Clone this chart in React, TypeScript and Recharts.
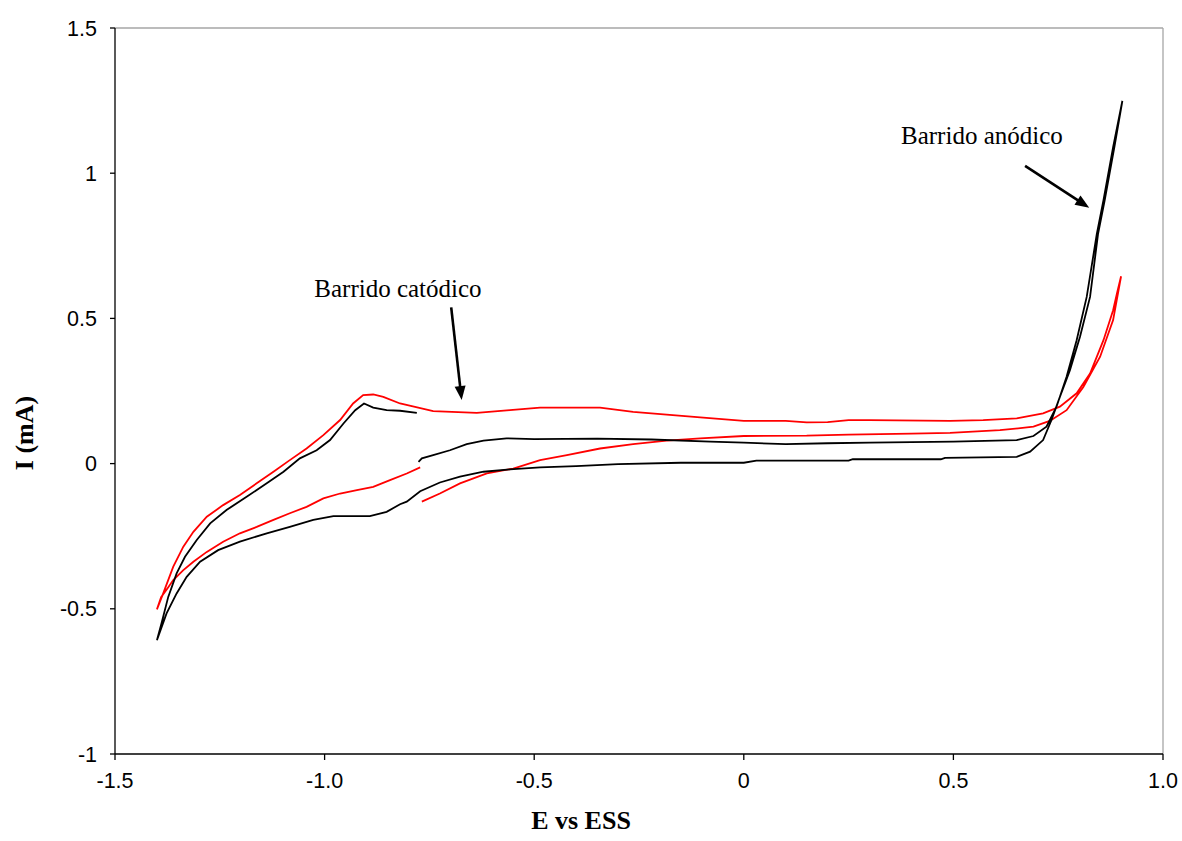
import React from 'react';
import { LineChart, Line, XAxis, YAxis, ReferenceLine, ReferenceDot } from 'recharts';

// Black voltammogram (E vs ESS, I in mA), in scan order
const blackE = [
  -0.776, -0.768, -0.741, -0.701, -0.661, -0.621, -0.566, -0.5, -0.35, -0.22, -0.08, 0.0, 0.1, 0.2, 0.3, 0.5, 0.6, 0.651, 0.691, 0.722, 0.746, 0.77, 0.794, 0.818, 0.842, 0.858, 0.881, 0.903,
  0.902, 0.884, 0.861, 0.845, 0.826, 0.802, 0.778, 0.754, 0.734, 0.714, 0.683, 0.651, 0.48, 0.47, 0.26, 0.25, 0.03, 0.0, -0.15, -0.3, -0.4, -0.486, -0.558, -0.621, -0.677, -0.725, -0.772, -0.804, -0.82, -0.852, -0.892, -0.979, -1.027, -1.083, -1.138, -1.202, -1.254, -1.297, -1.329, -1.353, -1.377, -1.4,
  -1.389, -1.373, -1.353, -1.333, -1.305, -1.273, -1.234, -1.186, -1.138, -1.098, -1.059, -1.019, -0.987, -0.955, -0.927, -0.906, -0.884, -0.852, -0.82, -0.78,
];
const blackI = [
  0.006, 0.018, 0.029, 0.046, 0.067, 0.079, 0.087, 0.084, 0.086, 0.083, 0.076, 0.072, 0.067, 0.07, 0.072, 0.076, 0.079, 0.081, 0.095, 0.127, 0.196, 0.299, 0.425, 0.574, 0.79, 0.907, 1.09, 1.249,
  1.24, 1.09, 0.907, 0.79, 0.574, 0.437, 0.322, 0.23, 0.15, 0.081, 0.041, 0.023, 0.02, 0.015, 0.015, 0.01, 0.01, 0.003, 0.003, -0.002, -0.009, -0.013, -0.02, -0.028, -0.045, -0.065, -0.095, -0.131, -0.14, -0.166, -0.181, -0.181, -0.194, -0.218, -0.24, -0.269, -0.298, -0.338, -0.39, -0.447, -0.516, -0.608,
  -0.55, -0.459, -0.378, -0.321, -0.263, -0.206, -0.16, -0.114, -0.068, -0.028, 0.018, 0.046, 0.081, 0.138, 0.184, 0.207, 0.193, 0.184, 0.182, 0.175,
];

// Red voltammogram, in scan order
const redE = [
  -0.768, -0.725, -0.677, -0.613, -0.55, -0.486, -0.422, -0.343, -0.264, -0.184, -0.104, 0.0, 0.15, 0.25, 0.4, 0.492, 0.611, 0.691, 0.73, 0.77, 0.81, 0.85, 0.881, 0.9,
  0.89, 0.881, 0.858, 0.826, 0.794, 0.754, 0.714, 0.651, 0.571, 0.492, 0.3, 0.25, 0.2, 0.15, 0.1, 0.0, -0.104, -0.184, -0.264, -0.343, -0.486, -0.558, -0.637, -0.741, -0.82, -0.86, -0.884, -0.908, -0.932, -0.963, -1.003, -1.043, -1.083, -1.122, -1.162, -1.202, -1.242, -1.281, -1.313, -1.337, -1.361, -1.385, -1.4,
  -1.39, -1.375, -1.361, -1.337, -1.313, -1.281, -1.242, -1.202, -1.162, -1.122, -1.083, -1.043, -1.003, -0.963, -0.923, -0.884, -0.844, -0.804, -0.772,
];
const redI = [
  -0.131, -0.103, -0.068, -0.034, -0.017, 0.012, 0.029, 0.052, 0.067, 0.079, 0.087, 0.095, 0.096, 0.1, 0.103, 0.106, 0.115, 0.127, 0.147, 0.184, 0.264, 0.368, 0.494, 0.645,
  0.585, 0.528, 0.425, 0.31, 0.242, 0.196, 0.173, 0.156, 0.15, 0.147, 0.15, 0.15, 0.143, 0.142, 0.147, 0.147, 0.159, 0.169, 0.178, 0.193, 0.193, 0.184, 0.175, 0.181, 0.207, 0.23, 0.238, 0.236, 0.207, 0.15, 0.098, 0.052, 0.012, -0.028, -0.068, -0.108, -0.143, -0.183, -0.235, -0.286, -0.355, -0.447, -0.502,
  -0.46, -0.43, -0.401, -0.367, -0.338, -0.304, -0.269, -0.24, -0.218, -0.194, -0.171, -0.149, -0.12, -0.103, -0.091, -0.08, -0.057, -0.034, -0.013,
];

const xTicks = [-1.5, -1.0, -0.5, 0, 0.5, 1.0];
const xTickLabels = ['-1.5', '-1.0', '-0.5', '0', '0.5', '1.0'];
const yTicks = [-1, -0.5, 0, 0.5, 1, 1.5];
const yTickLabels = ['-1', '-0.5', '0', '0.5', '1', '1.5'];

const annotations = [
  { text: 'Barrido catódico', e: -0.825, i: 0.573, from: { x: -0.698, y: 0.538 }, to: { x: -0.673, y: 0.219 } },
  { text: 'Barrido anódico', e: 0.568, i: 1.1, from: { x: 0.671, y: 1.025 }, to: { x: 0.824, y: 0.881 } },
];

const toPoints = (es: number[], is: number[]) => es.map((e, k) => ({ e, i: is[k] }));
const blackData = toPoints(blackE, blackI);
const redData = toPoints(redE, redI);

const serif = '"Liberation Serif", "Times New Roman", serif';
const sans = '"Liberation Sans", Arial, sans-serif';

const Arrow = (props: any) => {
  const { x1, y1, x2, y2 } = props;
  const dx = x2 - x1;
  const dy = y2 - y1;
  const len = Math.sqrt(dx * dx + dy * dy);
  const ux = dx / len;
  const uy = dy / len;
  const hl = 14;
  const hw = 5.5;
  const bx = x2 - ux * hl;
  const by = y2 - uy * hl;
  const p1 = `${x2},${y2}`;
  const p2 = `${bx - uy * hw},${by + ux * hw}`;
  const p3 = `${bx + uy * hw},${by - ux * hw}`;
  return (
    <g>
      <line x1={x1} y1={y1} x2={bx + ux * 2} y2={by + uy * 2} stroke="#000" strokeWidth={2.6} />
      <polygon points={`${p1} ${p2} ${p3}`} fill="#000" />
    </g>
  );
};

export default function App() {
  return (
    <div style={{ position: 'absolute', left: 0, top: 0, background: '#fff' }}>
      <LineChart width={1182} height={841} margin={{ top: 28, right: 19, bottom: 0, left: 0 }}>
        <XAxis
          type="number"
          dataKey="e"
          domain={[-1.5, 1.0]}
          ticks={xTicks}
          tickFormatter={(v: number) => xTickLabels[xTicks.indexOf(v)] ?? String(v)}
          height={87}
          tickSize={6}
          tickMargin={13}
          stroke="#000"
          axisLine={{ stroke: '#000', strokeWidth: 1.3 }}
          tickLine={{ stroke: '#000', strokeWidth: 1.3 }}
          tick={{ fill: '#000', fontSize: 21.5, fontFamily: sans }}
          allowDataOverflow
          label={(p: any) => {
            const vb = p.viewBox;
            return (
              <text x={vb.x + vb.width / 2 - 58} y={829} textAnchor="middle" fontFamily={serif} fontWeight="bold" fontSize={26} fill="#000">
                E vs ESS
              </text>
            );
          }}
        />
        <YAxis
          type="number"
          dataKey="i"
          domain={[-1, 1.5]}
          ticks={yTicks}
          tickFormatter={(v: number) => yTickLabels[yTicks.indexOf(v)] ?? String(v)}
          width={115}
          tickSize={5}
          tickMargin={13}
          stroke="#000"
          axisLine={{ stroke: '#000', strokeWidth: 1.3 }}
          tickLine={{ stroke: '#000', strokeWidth: 1.3 }}
          tick={{ fill: '#000', fontSize: 21.5, fontFamily: sans }}
          allowDataOverflow
          label={(p: any) => {
            const vb = p.viewBox;
            const cx = 24;
            const cy = vb.y + vb.height / 2 + 42;
            return (
              <text x={cx} y={cy} transform={`rotate(-90 ${cx} ${cy})`} textAnchor="middle" dominantBaseline="central" fontFamily={serif} fontWeight="bold" fontSize={26} fill="#000">
                I (mA)
              </text>
            );
          }}
        />
        <ReferenceLine y={1.5} stroke="#a6a6a6" strokeWidth={1.3} />
        <ReferenceLine x={1.0} stroke="#a6a6a6" strokeWidth={1.3} />
        <Line data={redData} dataKey="i" type="linear" stroke="#ff0000" strokeWidth={1.8} dot={false} isAnimationActive={false} />
        <Line data={blackData} dataKey="i" type="linear" stroke="#000000" strokeWidth={1.8} dot={false} isAnimationActive={false} />
        {annotations.map((a) => (
          <ReferenceLine key={a.text + '-arrow'} segment={[a.from, a.to]} shape={Arrow} />
        ))}
        {annotations.map((a) => (
          <ReferenceDot
            key={a.text}
            x={a.e}
            y={a.i}
            r={0}
            shape={(p: any) => (
              <text x={p.cx} y={p.cy} textAnchor="middle" fontFamily={serif} fontSize={25} fill="#000">
                {a.text}
              </text>
            )}
          />
        ))}
      </LineChart>
    </div>
  );
}
